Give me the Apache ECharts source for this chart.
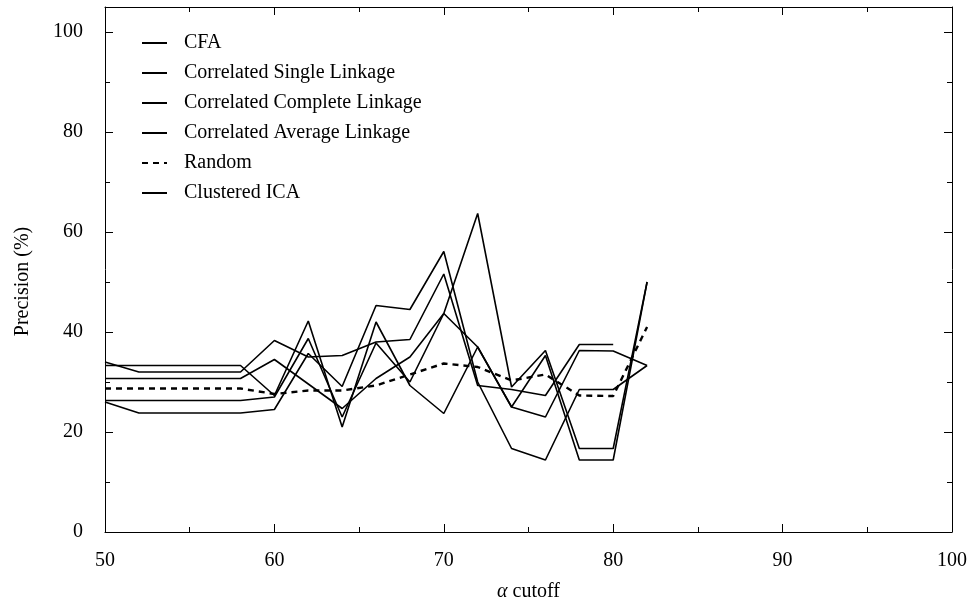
<!DOCTYPE html>
<html>
<head>
<meta charset="utf-8">
<script src="https://cdn.jsdelivr.net/npm/echarts@6/dist/echarts.min.js"></script>
<style>
* {
  margin: 0;
  padding: 0;
}
#chart-container {
  width: 974px;
  height: 605px;
}
</style>
</head>
<body>
<div id="chart-container"></div>
<script>
// alpha cutoff values (x)
const cutoffs = [50, 52, 54, 56, 58, 60, 62, 64, 66, 68, 70, 72, 74, 76, 78, 80, 82]

// precision (%) per method
const cfa = [34.0, 32.0, 32.0, 32.0, 32.0, 38.3, 35.0, 35.3, 38.0, 38.5, 51.6, 29.3, 28.5, 27.3, 37.5, 37.5, null]
const singleLinkage = [33.3, 33.3, 33.3, 33.3, 33.3, 27.3, 42.2, 21.0, 42.0, 29.3, 23.7, 37.0, 25.0, 35.3, 14.4, 14.4, 50.0]
const completeLinkage = [30.7, 30.7, 30.7, 30.7, 30.7, 34.5, 29.6, 24.7, 30.7, 35.0, 43.7, 37.0, 25.0, 23.0, 36.3, 36.2, 33.3]
const averageLinkage = [26.3, 26.3, 26.3, 26.3, 26.3, 27.0, 38.7, 23.0, 37.8, 30.0, 43.7, 63.7, 29.0, 36.3, 16.7, 16.7, 50.0]
const random = [28.7, 28.7, 28.7, 28.7, 28.7, 27.6, 28.3, 28.3, 29.3, 31.5, 33.7, 33.0, 30.3, 31.5, 27.3, 27.2, 41.0]
const clusteredIca = [26.0, 23.8, 23.8, 23.8, 23.8, 24.5, 35.7, 29.1, 45.3, 44.5, 56.1, 30.0, 16.7, 14.4, 28.5, 28.5, 33.3]

const seriesNames = ['CFA', 'Correlated Single Linkage', 'Correlated Complete Linkage', 'Correlated Average Linkage', 'Random', 'Clustered ICA']
const seriesValues = [cfa, singleLinkage, completeLinkage, averageLinkage, random, clusteredIca]

const font = 'Liberation Serif'
const fontSize = 20

const toPairs = (ys) => {
  const out = []
  for (let i = 0; i < cutoffs.length; i++) {
    if (ys[i] !== null) out.push([cutoffs[i], ys[i]])
  }
  return out
}

const chart = echarts.init(document.getElementById('chart-container'))

const frameLine = { show: true, onZero: false, lineStyle: { color: '#000', width: 1 } }

const xAxisBase = (position, showLabels) => ({
  type: 'value',
  position: position,
  min: 50,
  max: 100,
  interval: 10,
  axisLine: frameLine,
  axisTick: { inside: true, length: 8, lineStyle: { color: '#000' } },
  minorTick: { show: true, splitNumber: 2, length: 5, lineStyle: { color: '#000' } },
  splitLine: { show: false },
  axisLabel: {
    show: showLabels,
    color: '#000',
    fontFamily: font,
    fontSize: fontSize,
    margin: 19
  }
})

const yAxisBase = (position, interval, tickLen, showLabels) => ({
  type: 'value',
  position: position,
  min: 0,
  max: 105,
  interval: interval,
  axisLine: interval === 20 ? frameLine : { show: false },
  axisTick: { inside: true, length: tickLen, lineStyle: { color: '#000' } },
  splitLine: { show: false },
  axisLabel: {
    show: showLabels,
    color: '#000',
    fontFamily: font,
    fontSize: fontSize,
    margin: 22,
    formatter: (v) => (v % 20 === 0 ? String(v) : '')
  }
})

const xMain = xAxisBase('bottom', true)
xMain.name = '{a|α} cutoff'
xMain.nameLocation = 'middle'
xMain.nameGap = 50
xMain.nameTextStyle = {
  color: '#000',
  fontFamily: font,
  fontSize: fontSize,
  rich: {
    a: { fontFamily: font, fontStyle: 'italic', fontSize: fontSize, color: '#000' }
  }
}

const yMain = yAxisBase('left', 20, 8, true)
yMain.name = 'Precision (%)'
yMain.nameLocation = 'middle'
yMain.nameGap = 72
yMain.nameTextStyle = {
  color: '#000',
  fontFamily: font,
  fontSize: fontSize,
  padding: [0, 24, 0, 0]
}

const option = {
  animation: false,
  backgroundColor: '#fff',
  grid: {
    left: 105,
    right: 22,
    top: 7,
    bottom: 73,
    outerBoundsMode: 'none'
  },
  legend: {
    orient: 'vertical',
    left: 136,
    top: 28,
    itemWidth: 25,
    itemHeight: 10,
    itemGap: 10,
    data: seriesNames,
    itemStyle: { opacity: 0 },
    textStyle: {
      color: '#000',
      fontFamily: font,
      fontSize: fontSize,
      padding: [0, 0, 0, 12]
    }
  },
  xAxis: [xMain, xAxisBase('top', false)],
  yAxis: [
    yMain,
    yAxisBase('left', 10, 5, false),
    yAxisBase('right', 20, 8, false),
    yAxisBase('right', 10, 5, false)
  ],
  series: seriesNames.map((name, i) => ({
    name: name,
    type: 'line',
    xAxisIndex: 0,
    yAxisIndex: 0,
    symbol: 'none',
    data: toPairs(seriesValues[i]),
    itemStyle: { color: '#000' },
    lineStyle: name === 'Random'
      ? { color: '#000', width: 2.4, type: [6, 5] }
      : { color: '#000', width: 1.6 }
  }))
}

chart.setOption(option)
</script>
</body>
</html>
